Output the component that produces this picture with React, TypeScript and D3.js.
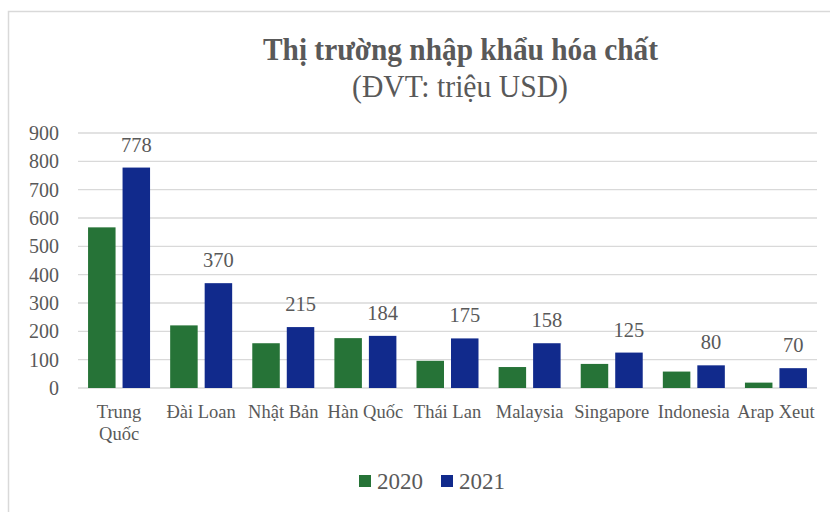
import * as d3 from "d3";

const categories = ["Trung Quốc", "Đài Loan", "Nhật Bản", "Hàn Quốc", "Thái Lan", "Malaysia", "Singapore", "Indonesia", "Arap Xeut"];
const values2020 = [567, 221, 158, 176, 96, 74, 85, 58, 19];
const values2021 = [778, 370, 215, 184, 175, 158, 125, 80, 70];
const yTicks = [0, 100, 200, 300, 400, 500, 600, 700, 800, 900];
const seriesNames = ["2020", "2021"];

const W = 830;
const H = 512;
const FONT = "'Liberation Serif', 'Times New Roman', serif";
const TEXT = "#595959";
const COLORS = ["#267337", "#112a8c"];

export default function App() {
  const x = d3.scaleBand<string>().domain(categories).range([78, 817]).paddingInner(0).paddingOuter(0);
  const y = d3.scaleLinear().domain([0, 900]).range([388, 133]);
  const barW = 27.5;
  const gap = 7;

  return (
    <svg width={W} height={H} style={{ position: "absolute", left: 0, top: 0, background: "#fff" }}>
      <rect x={8.5} y={11.5} width={W + 20} height={H + 20} fill="#fff" stroke="#d9d9d9" strokeWidth={1.5} />
      <text x={263} y={60} textLength={395} lengthAdjust="spacingAndGlyphs" fontFamily={FONT} fontWeight="bold" fontSize={32} fill={TEXT}>
        Thị trường nhập khẩu hóa chất
      </text>
      <text x={352} y={97} textLength={216} lengthAdjust="spacingAndGlyphs" fontFamily={FONT} fontSize={31} fill={TEXT}>
        (ĐVT: triệu USD)
      </text>

      {yTicks.map((t) => (
        <g key={t}>
          <line x1={78} x2={817} y1={y(t)} y2={y(t)} stroke="#d9d9d9" strokeWidth={1.3} />
          <text x={59} y={y(t) + 7} textAnchor="end" fontFamily={FONT} fontSize={20} fill={TEXT}>
            {t}
          </text>
        </g>
      ))}

      {categories.map((c, i) => {
        const cx = (x(c) ?? 0) + x.bandwidth() / 2;
        const x0 = cx - gap / 2 - barW;
        const x1 = cx + gap / 2;
        const lines = c === "Trung Quốc" ? ["Trung", "Quốc"] : [c];
        return (
          <g key={c}>
            <rect x={x0} y={y(values2020[i])} width={barW} height={y(0) - y(values2020[i])} fill={COLORS[0]} />
            <rect x={x1} y={y(values2021[i])} width={barW} height={y(0) - y(values2021[i])} fill={COLORS[1]} />
            <text x={x1 + barW / 2} y={y(values2021[i]) - 16} textAnchor="middle" fontFamily={FONT} fontSize={20.5} fill={TEXT}>
              {values2021[i]}
            </text>
            {lines.map((l, j) => (
              <text key={l} x={cx} y={418 + j * 22} textAnchor="middle" fontFamily={FONT} fontSize={18.5} fill={TEXT}>
                {l}
              </text>
            ))}
          </g>
        );
      })}

      {seriesNames.map((s, i) => {
        const lx = 359 + i * 82;
        return (
          <g key={s}>
            <rect x={lx} y={475} width={12} height={12} fill={COLORS[i]} />
            <text x={lx + 18} y={489} fontFamily={FONT} fontSize={23} fill={TEXT}>
              {s}
            </text>
          </g>
        );
      })}
    </svg>
  );
}
